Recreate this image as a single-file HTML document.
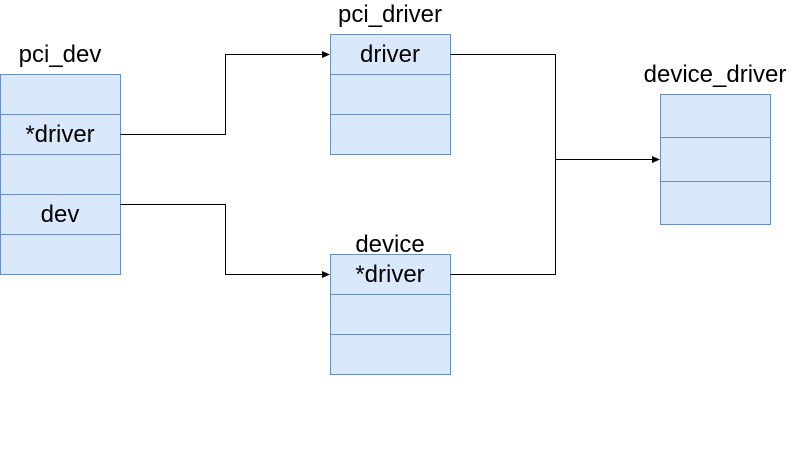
<!DOCTYPE html>
<html><head><style>body{margin:0;background:#fff}</style></head><body>
<svg width="796" height="455" xmlns="http://www.w3.org/2000/svg" font-family="Liberation Sans, sans-serif" font-size="24">
<defs><marker id="a" markerWidth="8" markerHeight="8" refX="7" refY="4" orient="auto" markerUnits="userSpaceOnUse"><path d="M0,0.5 L8,4 L0,7.5 Z" fill="#000"/></marker></defs>
<g fill="#dae8fc" stroke="#6c8ebf" stroke-width="1">
<rect x="0.5" y="74.5" width="120" height="40"/><rect x="0.5" y="114.5" width="120" height="40"/><rect x="0.5" y="154.5" width="120" height="40"/><rect x="0.5" y="194.5" width="120" height="40"/><rect x="0.5" y="234.5" width="120" height="40"/>
<rect x="330.5" y="34.5" width="120" height="40"/><rect x="330.5" y="74.5" width="120" height="40"/><rect x="330.5" y="114.5" width="120" height="40"/>
<rect x="330.5" y="254.5" width="120" height="40"/><rect x="330.5" y="294.5" width="120" height="40"/><rect x="330.5" y="334.5" width="120" height="40"/>
<rect x="660.5" y="94.5" width="110" height="43"/><rect x="660.5" y="137.5" width="110" height="44"/><rect x="660.5" y="181.5" width="110" height="43"/>
</g>
<g fill="none" stroke="#000" stroke-width="1">
<path d="M120.5 134.5H225.5V54.5H329" marker-end="url(#a)"/>
<path d="M120.5 204.5H225.5V274.5H329" marker-end="url(#a)"/>
<path d="M450.5 54.5H555.5V274.5H450.5"/>
<path d="M555.5 159.5H659" marker-end="url(#a)"/>
</g>
<g text-anchor="middle" fill="#000">
<text x="60" y="62">pci_dev</text><text x="60" y="142">*driver</text><text x="60" y="222">dev</text>
<text x="390" y="22">pci_driver</text><text x="390" y="62">driver</text>
<text x="390" y="252">device</text><text x="390" y="282">*driver</text>
<text x="715" y="82">device_driver</text>
</g>
</svg>
</body></html>
